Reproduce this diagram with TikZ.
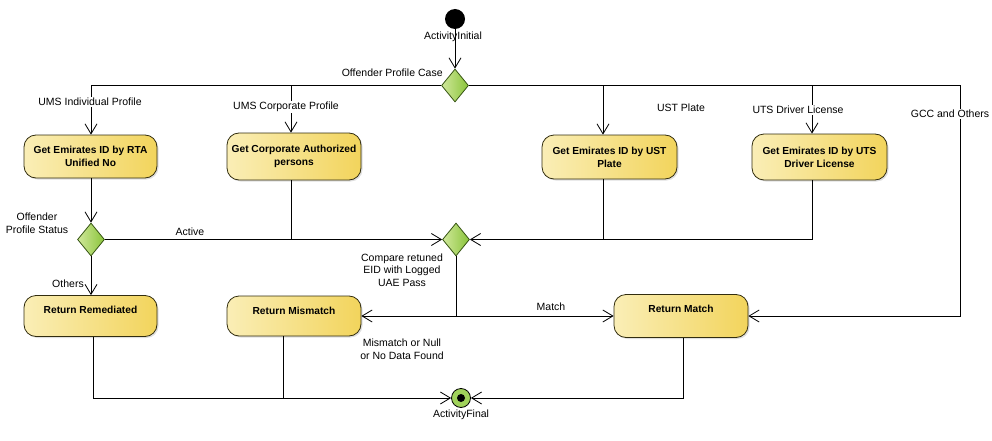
\documentclass[tikz,border=0pt]{standalone}
\usepackage{fontspec}
\setmainfont{Liberation Sans}
\usetikzlibrary{arrows.meta,shapes.geometric,shadows}
\definecolor{boxL}{RGB}{250,238,182}
\definecolor{boxR}{RGB}{242,212,92}
\definecolor{boxD}{RGB}{50,45,15}
\definecolor{decL}{RGB}{208,232,155}
\definecolor{decR}{RGB}{138,196,58}
\definecolor{decD}{RGB}{55,85,20}
\definecolor{finG}{RGB}{160,210,90}
\tikzset{
  act/.style={rounded corners=12pt, draw=boxD, line width=0.8pt, left color=boxL, right color=boxR,
    font=\fontsize{10.2}{12.8}\selectfont\bfseries, align=center, inner sep=2pt,
    drop shadow={opacity=0.25, shadow xshift=1.5pt, shadow yshift=-1.5pt}},
  dec/.style={diamond, draw=decD, line width=0.8pt, left color=decL, right color=decR,
    minimum width=27pt, minimum height=33pt, inner sep=0pt},
  lbl/.style={font=\fontsize{10.5}{12.6}\selectfont, align=center, inner sep=1pt},
  lblw/.style={lbl, fill=white},
  arr/.style={-{Straight Barb[length=10pt,width=12pt]}},
  every path/.style={line width=0.8pt}
}
\begin{document}
\begin{tikzpicture}[x=1pt,y=-1pt]
\useasboundingbox (0,0) rectangle (992,441);
% named x positions
\coordinate (x1) at (91,0);
\coordinate (x2) at (291,0);
\coordinate (x3) at (603,0);
\coordinate (x4) at (812,0);
\coordinate (x5) at (960,0);
\coordinate (xr) at (93,0);
\coordinate (xm) at (283,0);
\coordinate (xa) at (683,0);
\coordinate (yq) at (0,316);
% nodes
\node[circle, fill=black, minimum size=20pt, inner sep=0pt] (init) at (455,19) {};
\node[dec] (d1) at (455,85.5) {};
\node[act, minimum width=133pt, minimum height=43pt] (b1) at (90.5,156.5) {Get Emirates ID by RTA\\Unified No};
\node[act, minimum width=134pt, minimum height=47pt] (b2) at (294,156.5) {Get Corporate Authorized\\persons};
\node[act, minimum width=135pt, minimum height=44pt] (b3) at (609.5,157) {Get Emirates ID by UST\\Plate};
\node[act, minimum width=135pt, minimum height=46pt] (b4) at (819.5,157) {Get Emirates ID by UTS\\Driver License};
\node[dec] (d2) at (91,239.5) {};
\node[dec] (d3) at (456,239.5) {};
\node[act, minimum width=133pt, minimum height=41pt, text depth=13pt] (rr) at (90.5,316) {Return Remediated};
\node[act, minimum width=134pt, minimum height=40pt, text depth=10pt] (rmis) at (294,316) {Return Mismatch};
\node[act, minimum width=134pt, minimum height=43pt, text depth=15pt] (rmat) at (681,316) {Return Match};
\node[circle, draw=black, fill=finG, minimum size=19pt, inner sep=0pt] (fin) at (461,398) {};
\node[circle, fill=black, minimum size=8pt, inner sep=0pt] (findot) at (fin) {};
% connectors
\draw[arr] (init) -- (d1);
\draw (x1 |- d1) -- (d1.west);
\draw (d1.east) -- (x5 |- d1);
\draw[arr] (x1 |- d1) -- (b1.north -| x1);
\draw[arr] (x2 |- d1) -- (b2.north -| x2);
\draw[arr] (x3 |- d1) -- (b3.north -| x3);
\draw[arr] (x4 |- d1) -- (b4.north -| x4);
\draw[arr] (x5 |- d1) |- (rmat.east);
\draw[arr] (b1.south -| x1) -- (d2.north);
\draw[arr] (d2.east) -- (d3.west);
\draw (b2.south -| x2) -- (x2 |- d2);
\draw (b3.south -| x3) -- (x3 |- d3);
\draw[arr] (b4.south -| x4) |- (d3.east);
\draw[arr] (d2.south) -- (rr.north -| d2);
\draw (d3.south) -- (d3 |- yq);
\draw[arr] (d3 |- yq) -- (rmis.east);
\draw[arr] (d3 |- yq) -- (rmat.west);
\draw[arr] (rr.south -| xr) |- (fin.west);
\draw (rmis.south -| xm) -- (xm |- fin);
\draw[arr] (rmat.south -| xa) |- (fin.east);
% labels
\node[lbl] (linit) at (453,37) {ActivityInitial};
\node[lbl, anchor=east] (lcase) at (444,73) {Offender Profile Case};
\node[lblw] (lind) at (90,102) {UMS Individual Profile};
\node[lblw] (lcorp) at (286,107) {UMS Corporate Profile};
\node[lbl] (lust) at (681,108) {UST Plate};
\node[lblw] (luts) at (798,110) {UTS Driver License};
\node[lblw] (lgcc) at (950,114) {GCC and Others};
\node[lbl] (lstat) at (37,223) {Offender\\Profile Status};
\node[lbl] (lact) at (190,232) {Active};
\node[lbl] (loth) at (68,284) {Others};
\node[lbl] (lcmp) at (402,270) {Compare retuned\\EID with Logged\\UAE Pass};
\node[lbl] (lmatch) at (551,307) {Match};
\node[lbl] (lmis) at (402,349) {Mismatch or Null\\or No Data Found};
\node[lbl] (lfin) at (461,415) {ActivityFinal};
\end{tikzpicture}
\end{document}
